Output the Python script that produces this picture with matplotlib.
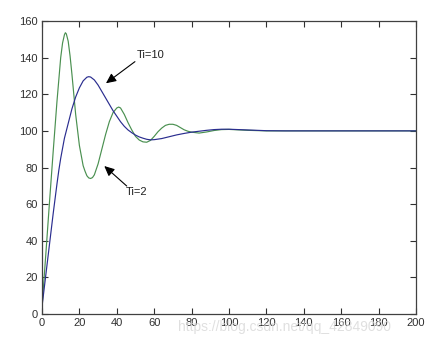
import matplotlib
matplotlib.use("Agg")
import matplotlib.pyplot as plt

# Ti=2 response (green)
x_ti2 = [0, 2, 4, 6, 8, 10, 11, 12, 12.5, 13, 14, 15, 16, 17, 18, 20, 22, 23, 24, 25, 26, 27, 28,
         30, 32, 34, 36, 38, 40, 41, 42, 44, 46, 48, 50, 52, 54, 56, 58, 60, 62, 64, 66,
         68, 70, 72, 74, 76, 78, 80, 84, 88, 92, 96, 100, 110, 120, 130, 200]
y_ti2 = [4, 32, 61, 89, 116, 140, 148, 152.5, 153.6, 153, 149, 141, 131, 120, 109, 92, 81, 78, 75.5, 74.3, 74, 74.5, 76,
         82, 90, 98, 105, 110, 112.5, 113, 112.5, 109, 104.5, 100.5, 97, 95, 94, 93.8, 94.8, 97, 99.5, 101.5, 103,
         103.6, 103.6, 103, 101.8, 100.6, 99.8, 99.3, 98.8, 99.4, 100.2, 100.7, 100.8, 100.3, 100, 100, 100]

# Ti=10 response (blue)
x_ti10 = [0, 2, 4, 6, 8, 9, 10, 12, 13, 14, 16, 18, 20, 22, 24, 25, 26, 28, 30, 32, 34, 36, 38,
          40, 42, 44, 46, 48, 50, 52, 54, 56, 58, 60, 64, 68, 72, 76, 80, 84, 88, 92, 96, 100, 110, 120, 130, 200]
y_ti10 = [4, 21, 38, 55, 71, 78.5, 85, 96, 100, 104, 112, 118.5, 123.5, 127.3, 129.3, 129.6, 129.4, 127.8, 125, 121.5, 118, 114.5, 111,
          108, 105, 102.5, 100.5, 99, 97.7, 96.7, 96, 95.4, 95.1, 95.2, 95.8, 96.8, 97.8, 98.6, 99.3, 99.8, 100.3, 100.7, 100.9, 100.9, 100.5, 100.1, 100, 100]

x_ticks = [0, 20, 40, 60, 80, 100, 120, 140, 160, 180, 200]
y_ticks = [0, 20, 40, 60, 80, 100, 120, 140, 160]

plt.rcParams['font.family'] = ['Liberation Sans', 'DejaVu Sans']

fig = plt.figure(figsize=(4.36, 3.43), dpi=100)
ax = fig.add_axes([42/436, 1 - 314/343, (416 - 42)/436, (314 - 21)/343])

ax.plot(x_ti2, y_ti2, color='#4a9050', lw=0.85)
ax.plot(x_ti10, y_ti10, color='#2a2d8f', lw=0.85)

ax.set_xlim(0, 200)
ax.set_ylim(0, 160)
ax.set_xticks(x_ticks)
ax.set_yticks(y_ticks)
ax.tick_params(direction='in', top=True, right=True, length=4, width=0.8,
               labelsize=8, colors='#303030', pad=3)
for s in ax.spines.values():
    s.set_color('#404040')
    s.set_linewidth(0.9)

arrow = dict(arrowstyle='-|>,head_length=0.6,head_width=0.28', color='black', lw=0.8,
             shrinkA=0, shrinkB=0)
ax.annotate('', xy=(34.2, 126), xytext=(49.7, 137.8), arrowprops=arrow)
ax.text(58.3, 141.7, 'Ti=10', fontsize=8, ha='center', va='center', color='#202020')
ax.annotate('', xy=(33.3, 80.8), xytext=(45.3, 69.9), arrowprops=arrow)
ax.text(50.5, 66.4, 'Ti=2', fontsize=8, ha='center', va='center', color='#202020')

fig.text(178/436, 1 - 331/343, 'https://blog.csdn.net/qq_42849090', fontsize=10,
         color='#d8d8d8', alpha=0.8, ha='left', va='baseline')

fig.savefig('out.png', dpi=100, facecolor='white')
